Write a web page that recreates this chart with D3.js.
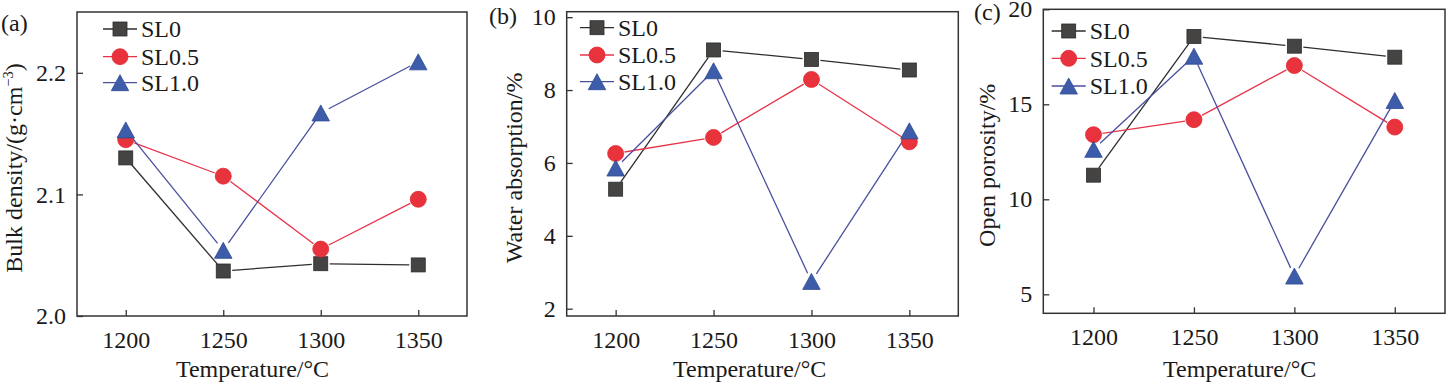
<!DOCTYPE html>
<html><head><meta charset="utf-8">
<script src="https://cdn.jsdelivr.net/npm/d3@7"></script>
<style>
html,body{margin:0;padding:0;background:#fff;}
svg text{font-family:"Liberation Serif","Times New Roman",serif;fill:#1a1a1a;}
</style></head>
<body>
<svg id="chart" width="1447" height="383"></svg>
<script>
// ---- data ----
const temperatures = [1200, 1250, 1300, 1350];
const xTicks = [1200, 1250, 1300, 1350];
const seriesNames = ["SL0", "SL0.5", "SL1.0"];

const bulkSL0  = [2.130, 2.037, 2.043, 2.042];
const bulkSL05 = [2.145, 2.115, 2.055, 2.096];
const bulkSL10 = [2.153, 2.054, 2.167, 2.209];
const bulkTicks = [2.0, 2.1, 2.2];

const waterSL0  = [5.28, 9.10, 8.84, 8.55];
const waterSL05 = [6.26, 6.70, 8.29, 6.58];
const waterSL10 = [5.86, 8.53, 2.75, 6.88];
const waterTicks = [2, 4, 6, 8, 10];

const poroSL0  = [11.27, 18.57, 18.06, 17.48];
const poroSL05 = [13.40, 14.19, 17.04, 13.80];
const poroSL10 = [12.63, 17.53, 5.96, 15.20];
const poroTicks = [5, 10, 15, 20];

// ---- styles ----
const styles = [
  {shape:"square",   fill:"#454442", stroke:"#2b2b2b", line:"#2e2e2e"},
  {shape:"circle",   fill:"#e8333d", stroke:"#e02a34", line:"#e8334a"},
  {shape:"triangle", fill:"#3d5ca9", stroke:"#2f4a94", line:"#4a4f9c"}
];

const panels = [
  {tag:"(a)", tagX:1, tagY:31, ylab:"bulk", values:[bulkSL0,bulkSL05,bulkSL10], ticks:bulkTicks,
   yDom:[2.0,2.25], fmt:d3.format(".1f"), x0:77, x1:467, y0:12, y1:316,
   ylx:21.5, xlx:252.5, legX:103, legY:[29,56.7,82.7]},
  {tag:"(b)", tagX:489, tagY:24, ylab:"Water absorption/%", values:[waterSL0,waterSL05,waterSL10], ticks:waterTicks,
   yDom:[1.8,10.15], fmt:d3.format("d"), x0:566.7, x1:958.3, y0:11.7, y1:316,
   ylx:521.5, xlx:749.7, legX:580, legY:[27.7,55,81.7]},
  {tag:"(c)", tagX:974, tagY:20, ylab:"Open porosity/%", values:[poroSL0,poroSL05,poroSL10], ticks:poroTicks,
   yDom:[4,20], fmt:d3.format("d"), x0:1043.3, x1:1445, y0:9.3, y1:313.3,
   ylx:994.5, xlx:1239.7, legX:1051.7, legY:[31,58.3,86]}
];

const svg = d3.select("#chart");
const FS = 24;

function drawMarker(g, shape, cx, cy, st){
  if(shape==="square"){
    g.append("rect").attr("x",cx-7).attr("y",cy-7).attr("width",14).attr("height",14)
      .attr("fill",st.fill).attr("stroke",st.stroke).attr("stroke-width",0.8);
  } else if(shape==="circle"){
    g.append("circle").attr("cx",cx).attr("cy",cy).attr("r",8)
      .attr("fill",st.fill).attr("stroke",st.stroke).attr("stroke-width",0.8);
  } else {
    const w=17.5, h=16;
    g.append("path").attr("d",`M${cx},${cy-h/2}L${cx+w/2},${cy+h/2}L${cx-w/2},${cy+h/2}Z`)
      .attr("fill",st.fill).attr("stroke",st.stroke).attr("stroke-width",0.8);
  }
}

panels.forEach(p=>{
  const x = d3.scaleLinear().domain([1175,1375]).range([p.x0,p.x1]);
  const y = d3.scaleLinear().domain(p.yDom).range([p.y1,p.y0]);
  const g = svg.append("g");

  // axes
  const xa = g.append("g").attr("transform",`translate(0,${p.y1})`)
    .call(d3.axisBottom(x).tickValues(xTicks).tickSize(-6).tickPadding(15).tickFormat(d3.format("d")));
  const ya = g.append("g").attr("transform",`translate(${p.x0},0)`)
    .call(d3.axisLeft(y).tickValues(p.ticks).tickSize(-6).tickPadding(11).tickFormat(p.fmt));
  [xa,ya].forEach(a=>{
    a.select(".domain").remove();
    a.selectAll("line").attr("stroke","#333").attr("stroke-width",1.3);
    a.selectAll("text").attr("font-size",FS).attr("fill","#1a1a1a")
      .attr("font-family",'"Liberation Serif","Times New Roman",serif');
  });

  // frame
  g.append("rect").attr("x",p.x0).attr("y",p.y0).attr("width",p.x1-p.x0).attr("height",p.y1-p.y0)
    .attr("fill","none").attr("stroke","#333").attr("stroke-width",1.5);

  // series lines with gaps around symbols
  const gap = 9;
  p.values.forEach((vals,si)=>{
    const st = styles[si];
    const pts = vals.map((v,i)=>[x(temperatures[i]), y(v)]);
    for(let i=0;i<pts.length-1;i++){
      const [ax,ay]=pts[i],[bx,by]=pts[i+1];
      const dx=bx-ax, dy=by-ay, L=Math.hypot(dx,dy);
      if(L<=2*gap) continue;
      const ux=dx/L, uy=dy/L;
      g.append("line").attr("x1",ax+ux*gap).attr("y1",ay+uy*gap)
        .attr("x2",bx-ux*gap).attr("y2",by-uy*gap)
        .attr("stroke",st.line).attr("stroke-width",1.3);
    }
  });
  p.values.forEach((vals,si)=>{
    const st = styles[si];
    vals.forEach((v,i)=>drawMarker(g, st.shape, x(temperatures[i]), y(v), st));
  });

  // legend
  seriesNames.forEach((name,si)=>{
    const st = styles[si];
    const ly = p.legY[si];
    g.append("line").attr("x1",p.legX).attr("x2",p.legX+34).attr("y1",ly).attr("y2",ly)
      .attr("stroke",st.line).attr("stroke-width",1.3);
    drawMarker(g, st.shape, p.legX+17, ly, st);
    g.append("text").attr("x",p.legX+38).attr("y",ly).attr("dy","0.35em")
      .attr("font-size",FS).text(name);
  });

  // x title
  g.append("text").attr("x",p.xlx).attr("y",376.5).attr("text-anchor","middle")
    .attr("font-size",FS).text("Temperature/\u00B0C");

  // y title
  const yt = g.append("text").attr("transform",`translate(${p.ylx},${(p.y0+p.y1)/2+4}) rotate(-90)`)
    .attr("text-anchor","middle").attr("font-size",FS);
  if(p.ylab==="bulk"){
    yt.append("tspan").text("Bulk density/(g\u00B7cm");
    yt.append("tspan").attr("font-size",FS*0.6).attr("dy",-9).text("\u22123");
    yt.append("tspan").attr("dy",9).text(")");
  } else {
    yt.text(p.ylab);
  }

  // panel tag
  g.append("text").attr("x",p.tagX).attr("y",p.tagY).attr("font-size",FS).text(p.tag);
});
</script>
</body></html>
